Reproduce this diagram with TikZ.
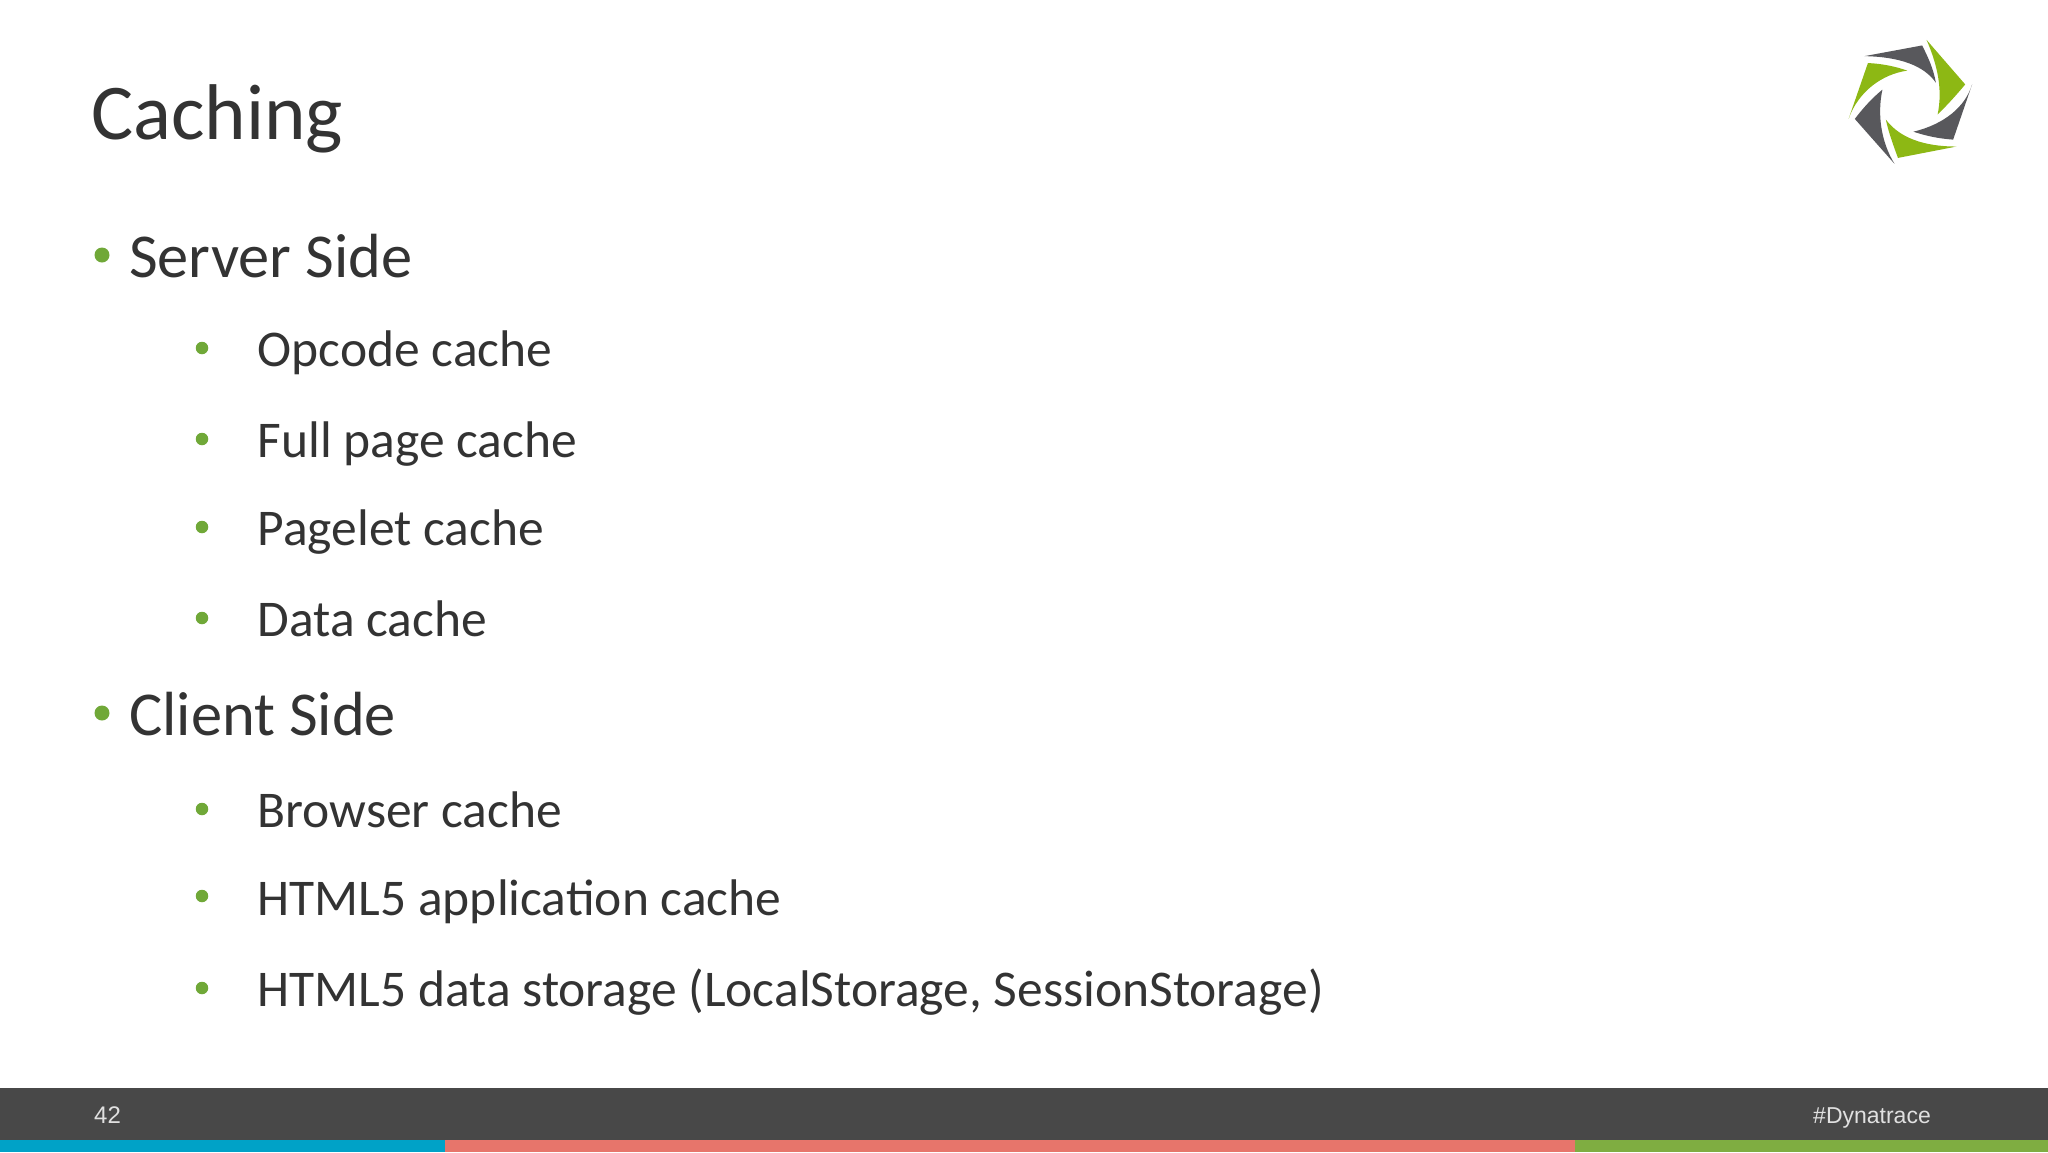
\documentclass[tikz,border=0pt]{standalone}
\usepackage{fontspec}
\setmainfont{Carlito}
\newfontfamily\footfont{Liberation Sans}
\definecolor{inkc}{HTML}{333333}
\definecolor{bulc}{HTML}{70A838}
\definecolor{barc}{HTML}{484848}
\definecolor{bluec}{HTML}{00A2C7}
\definecolor{redc}{HTML}{E7756B}
\definecolor{grnc}{HTML}{7FAD41}
\definecolor{lgrn}{HTML}{8DB814}
\definecolor{lgry}{HTML}{58585C}
\definecolor{foot}{HTML}{E0E0E0}
\tikzset{
  titletxt/.style={anchor=base west,inner sep=0pt,text=inkc,font=\fontsize{79}{83}\selectfont},
  lvlone/.style={anchor=base west,inner sep=0pt,text=inkc,font=\fontsize{62.4}{66}\selectfont},
  lvltwo/.style={anchor=base west,inner sep=0pt,text=inkc,font=\fontsize{51.5}{55}\selectfont},
  foottxt/.style={anchor=base west,inner sep=0pt,text=foot,font=\footfont\fontsize{24}{28}\selectfont},
  bigdot/.style={circle,fill=bulc,inner sep=0pt,minimum size=15pt},
  smalldot/.style={circle,fill=bulc,inner sep=0pt,minimum size=12.5pt}
}
\begin{document}
\begin{tikzpicture}[x=1pt,y=-1pt]
\useasboundingbox (0,0) rectangle (2048,1152);
\fill[white] (0,0) rectangle (2048,1152);
\fill[barc] (0,1088) rectangle (2048,1140);
\fill[bluec] (0,1140) rectangle (445,1152);
\fill[redc] (445,1140) rectangle (1575,1152);
\fill[grnc] (1575,1140) rectangle (2048,1152);
\node[titletxt] (title) at (91,139.5) {Caching};
\node[bigdot] (b1) at (102,255) {};
\node[lvlone] (server) at (129,277.5) {Server Side};
\node[smalldot] (b2) at (202,348) {};
\node[lvltwo] (opcode) at (257.5,366.5) {Opcode cache};
\node[smalldot] (b3) at (202,439) {};
\node[lvltwo] (full) at (257.5,457.5) {Full page cache};
\node[smalldot] (b4) at (202,527) {};
\node[lvltwo] (pagelet) at (257.5,545.5) {Pagelet cache};
\node[smalldot] (b5) at (202,618) {};
\node[lvltwo] (data) at (257.5,636.5) {Data cache};
\node[bigdot] (b6) at (102,713) {};
\node[lvlone] (client) at (129,735.5) {Client Side};
\node[smalldot] (b7) at (202,809) {};
\node[lvltwo] (browser) at (257.5,827.5) {Browser cache};
\node[smalldot] (b8) at (202,896) {};
\node[lvltwo] (appcache) at (257.5,915.5) {HTML5 application cache};
\node[smalldot] (b9) at (202,988) {};
\node[lvltwo] (storage) at (257.5,1006.5) {HTML5 data storage (LocalStorage, SessionStorage)};
\node[foottxt] (num) at (94,1123) {42};
\node[foottxt,font=\footfont\fontsize{23}{27}\selectfont] (tag) at (1813,1123) {\#Dynatrace};
\begin{scope}[shift={(1816.85,17.15)},x=0.345pt,y=-0.345pt]
\fill[lgry] (138,113) -- (305,82) .. controls (322,115) and (338,150) .. (345,190) .. controls (310,140) and (240,115) .. cycle;
\fill[lgrn] (318,66) -- (430,195) .. controls (405,225) and (378,255) .. (350,282) .. controls (365,210) and (350,140) .. cycle;
\fill[lgry] (450,195) -- (395,355) .. controls (355,352) and (318,345) .. (280,332) .. controls (370,310) and (430,260) .. cycle;
\fill[lgrn] (405,375) -- (235,408) .. controls (222,372) and (208,335) .. (200,297) .. controls (240,350) and (310,375) .. cycle;
\fill[lgry] (225,425) -- (110,295) .. controls (135,262) and (160,235) .. (190,210) .. controls (175,280) and (185,360) .. cycle;
\fill[lgrn] (92,295) -- (148,133) .. controls (190,135) and (228,143) .. (262,155) .. controls (190,165) and (120,215) .. cycle;
\end{scope}
\end{tikzpicture}
\end{document}
